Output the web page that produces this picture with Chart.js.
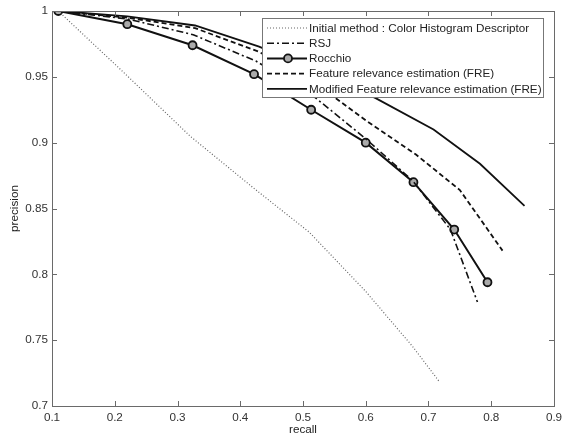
<!DOCTYPE html>
<html>
<head>
<meta charset="utf-8">
<script src="https://cdn.jsdelivr.net/npm/chart.js@4"></script>
<style>
  html, body { margin: 0; padding: 0; background: #fff; }
  #wrap { width: 562px; height: 433px; }
</style>
</head>
<body>
<div id="wrap"><canvas id="prChart" width="562" height="433"></canvas></div>
<script>
// recall / precision values
const initialX = [0.11, 0.215, 0.32, 0.42, 0.51, 0.6, 0.675, 0.718];
const initialY = [1, 0.953, 0.905, 0.866, 0.832, 0.787, 0.745, 0.718];

const rsjX = [0.11, 0.22, 0.325, 0.425, 0.515, 0.6, 0.675, 0.735, 0.778];
const rsjY = [1, 0.994, 0.982, 0.962, 0.936, 0.903, 0.871, 0.834, 0.779];

const rocchioX = [0.11, 0.22, 0.324, 0.422, 0.513, 0.6, 0.676, 0.741, 0.794];
const rocchioY = [1, 0.99, 0.974, 0.952, 0.925, 0.9, 0.87, 0.834, 0.794];

const freX = [0.11, 0.22, 0.328, 0.43, 0.52, 0.6, 0.68, 0.75, 0.818];
const freY = [1, 0.995, 0.987, 0.969, 0.945, 0.917, 0.891, 0.864, 0.818];

const modX = [0.11, 0.22, 0.328, 0.43, 0.52, 0.615, 0.708, 0.782, 0.853];
const modY = [1, 0.996, 0.989, 0.973, 0.955, 0.934, 0.91, 0.884, 0.852];

const labels = [
    'Initial method : Color Histogram Descriptor',
    'RSJ',
    'Rocchio',
    'Feature relevance estimation (FRE)',
    'Modified Feature relevance estimation (FRE)'
];

const xTicks = [0.1, 0.2, 0.3, 0.4, 0.5, 0.6, 0.7, 0.8, 0.9];
const yTicks = [0.7, 0.75, 0.8, 0.85, 0.9, 0.95, 1];

const FONT = 'Liberation Sans, Arial, Helvetica, sans-serif';
const AXIS = '#6a6a6a';

function pts(xs, ys) {
    return xs.map((x, i) => ({x: x, y: ys[i]}));
}

// box + inward ticks (matlab style)
const framePlugin = {
    id: 'frame',
    afterDatasetsDraw(chart) {
        const ctx = chart.ctx;
        const a = chart.chartArea;
        const xs = chart.scales.x, ys = chart.scales.y;
        ctx.save();
        ctx.strokeStyle = AXIS;
        ctx.lineWidth = 1;
        ctx.setLineDash([]);
        ctx.beginPath();
        xTicks.forEach(v => {
            const px = Math.round(xs.getPixelForValue(v)) + 0.5;
            ctx.moveTo(px, a.bottom); ctx.lineTo(px, a.bottom - 5);
            ctx.moveTo(px, a.top); ctx.lineTo(px, a.top + 5);
        });
        yTicks.forEach(v => {
            const py = Math.round(ys.getPixelForValue(v)) + 0.5;
            ctx.moveTo(a.left, py); ctx.lineTo(a.left + 5, py);
            ctx.moveTo(a.right, py); ctx.lineTo(a.right - 5, py);
        });
        ctx.stroke();
        ctx.strokeRect(Math.round(a.left) + 0.5, Math.round(a.top) + 0.5,
            Math.round(a.right - a.left), Math.round(a.bottom - a.top));

        // legend
        const bx = 262, by = 18, bw = 281, bh = 79;
        ctx.fillStyle = '#fff';
        ctx.fillRect(bx, by, bw, bh);
        ctx.strokeStyle = '#777';
        ctx.strokeRect(bx + 0.5, by + 0.5, bw, bh);
        ctx.font = '11.7px ' + FONT;
        ctx.textBaseline = 'middle';
        chart.data.datasets.forEach((ds, i) => {
            const y = by + 10 + i * 15.2;
            ctx.strokeStyle = ds.borderColor;
            ctx.lineWidth = ds.borderWidth;
            ctx.setLineDash(ds.borderDash || []);
            ctx.beginPath();
            ctx.moveTo(267, y); ctx.lineTo(307, y);
            ctx.stroke();
            if (ds.pointRadius > 0) {
                ctx.setLineDash([]);
                ctx.lineWidth = ds.pointBorderWidth;
                ctx.fillStyle = ds.pointBackgroundColor;
                ctx.beginPath();
                ctx.arc(288, y, ds.pointRadius, 0, Math.PI * 2);
                ctx.fill();
                ctx.stroke();
            }
            ctx.fillStyle = '#222';
            ctx.fillText(ds.label, 309, y + 0.5);
        });
        ctx.restore();
    }
};

new Chart(document.getElementById('prChart'), {
    type: 'line',
    data: {
        datasets: [{
            label: labels[0],
            data: pts(initialX, initialY),
            borderColor: '#666',
            borderWidth: 1.2,
            borderDash: [1, 2],
            pointRadius: 0
        }, {
            label: labels[1],
            data: pts(rsjX, rsjY),
            borderColor: '#111',
            borderWidth: 1.6,
            borderDash: [7, 3, 2, 3],
            pointRadius: 0
        }, {
            label: labels[2],
            data: pts(rocchioX, rocchioY),
            borderColor: '#111',
            borderWidth: 2,
            pointRadius: 4,
            pointBorderWidth: 1.8,
            pointBorderColor: '#111',
            pointBackgroundColor: '#aaa'
        }, {
            label: labels[3],
            data: pts(freX, freY),
            borderColor: '#111',
            borderWidth: 1.8,
            borderDash: [5, 3],
            pointRadius: 0
        }, {
            label: labels[4],
            data: pts(modX, modY),
            borderColor: '#111',
            borderWidth: 1.8,
            pointRadius: 0
        }]
    },
    options: {
        responsive: false,
        animation: false,
        layout: {padding: {top: 9, right: 0, left: 0, bottom: 0}},
        plugins: {legend: {display: false}, tooltip: {enabled: false}},
        elements: {line: {tension: 0}},
        scales: {
            x: {
                type: 'linear',
                min: 0.1, max: 0.9,
                afterBuildTicks: s => { s.ticks = xTicks.map(v => ({value: v})); },
                afterFit: s => { s.height = 27; s.paddingRight = 8; },
                grid: {display: false, drawTicks: false},
                border: {display: true, color: AXIS},
                ticks: {
                    padding: 5,
                    color: '#333',
                    font: {family: FONT, size: 11.7},
                    maxRotation: 0,
                    callback: v => String(+v.toFixed(2))
                },
                title: {
                    display: true, text: 'recall', color: '#222',
                    font: {family: FONT, size: 11.7, lineHeight: 1},
                    padding: {top: 0, bottom: -3}
                }
            },
            y: {
                min: 0.7, max: 1,
                afterBuildTicks: s => { s.ticks = yTicks.map(v => ({value: v})); },
                afterFit: s => { s.width = 52; },
                grid: {display: false, drawTicks: false},
                border: {display: true, color: AXIS},
                ticks: {
                    padding: 4,
                    color: '#333',
                    font: {family: FONT, size: 11.7},
                    callback: v => String(+v.toFixed(2))
                },
                title: {
                    display: true, text: 'precision', color: '#222',
                    font: {family: FONT, size: 11.7, lineHeight: 1},
                    padding: {top: 9, bottom: 0}
                }
            }
        }
    },
    plugins: [framePlugin]
});
</script>
</body>
</html>
